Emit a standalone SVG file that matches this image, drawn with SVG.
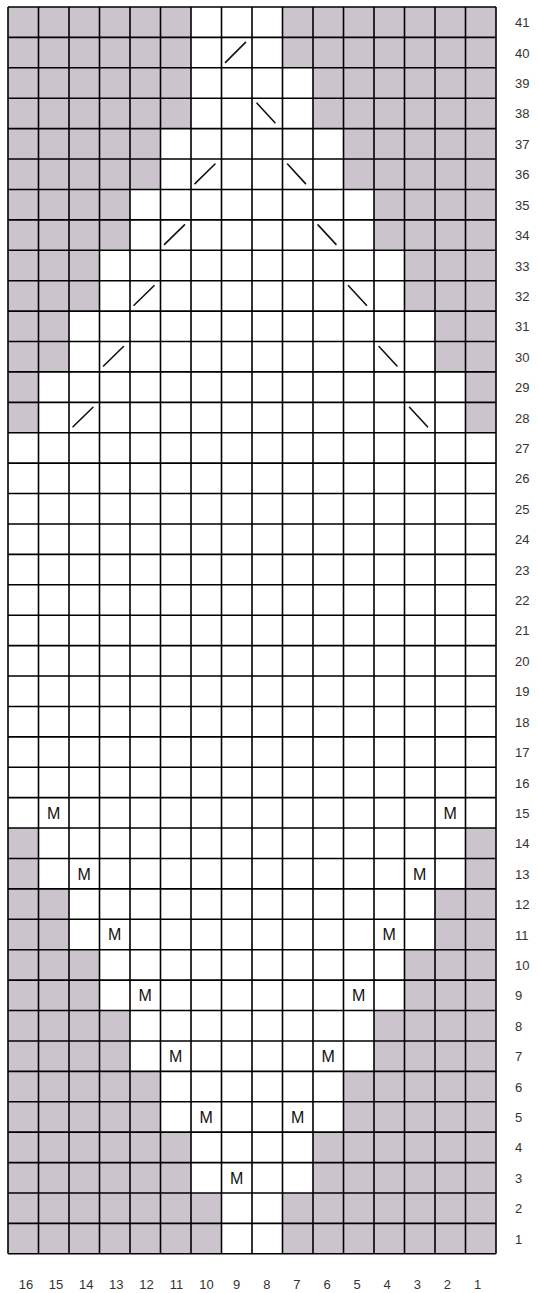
<svg xmlns="http://www.w3.org/2000/svg" width="538" height="1293" viewBox="0 0 538 1293">
<style>
.sh{fill:#cbc4cc}
.gl{stroke:#000;stroke-width:1.6;fill:none}
.dg{stroke:#111;stroke-width:1.6;stroke-linecap:round}
.m{font-family:"Liberation Sans",Arial,sans-serif;font-size:16px;fill:#111;text-anchor:middle}
.lb{font-family:"Liberation Sans",Arial,sans-serif;font-size:13px;fill:#333}
.cl{font-family:"Liberation Sans",Arial,sans-serif;font-size:13px;fill:#333;text-anchor:middle}
</style>
<rect x="0" y="0" width="538" height="1293" fill="#fff"/>
<g id="shading">
<rect class="sh" x="8" y="7" width="183" height="60.82"/><rect class="sh" x="282.5" y="7" width="213.5" height="60.82"/>
<rect class="sh" x="8" y="67.82" width="183" height="60.82"/><rect class="sh" x="313" y="67.82" width="183" height="60.82"/>
<rect class="sh" x="8" y="128.64" width="152.5" height="60.82"/><rect class="sh" x="343.5" y="128.64" width="152.5" height="60.82"/>
<rect class="sh" x="8" y="189.46" width="122" height="60.82"/><rect class="sh" x="374" y="189.46" width="122" height="60.82"/>
<rect class="sh" x="8" y="250.28" width="91.5" height="60.82"/><rect class="sh" x="404.5" y="250.28" width="91.5" height="60.82"/>
<rect class="sh" x="8" y="311.1" width="61" height="60.82"/><rect class="sh" x="435" y="311.1" width="61" height="60.82"/>
<rect class="sh" x="8" y="371.92" width="30.5" height="60.82"/><rect class="sh" x="465.5" y="371.92" width="30.5" height="60.82"/>
<rect class="sh" x="8" y="828.07" width="30.5" height="60.82"/><rect class="sh" x="465.5" y="828.07" width="30.5" height="60.82"/>
<rect class="sh" x="8" y="888.89" width="61" height="60.82"/><rect class="sh" x="435" y="888.89" width="61" height="60.82"/>
<rect class="sh" x="8" y="949.71" width="91.5" height="60.82"/><rect class="sh" x="404.5" y="949.71" width="91.5" height="60.82"/>
<rect class="sh" x="8" y="1010.53" width="122" height="60.82"/><rect class="sh" x="374" y="1010.53" width="122" height="60.82"/>
<rect class="sh" x="8" y="1071.35" width="152.5" height="60.82"/><rect class="sh" x="343.5" y="1071.35" width="152.5" height="60.82"/>
<rect class="sh" x="8" y="1132.17" width="183" height="60.82"/><rect class="sh" x="313" y="1132.17" width="183" height="60.82"/>
<rect class="sh" x="8" y="1192.99" width="213.5" height="60.82"/><rect class="sh" x="282.5" y="1192.99" width="213.5" height="60.82"/>
</g>
<g id="grid">
<path class="gl" d="M8 7V1253.81M38.5 7V1253.81M69 7V1253.81M99.5 7V1253.81M130 7V1253.81M160.5 7V1253.81M191 7V1253.81M221.5 7V1253.81M252 7V1253.81M282.5 7V1253.81M313 7V1253.81M343.5 7V1253.81M374 7V1253.81M404.5 7V1253.81M435 7V1253.81M465.5 7V1253.81M496 7V1253.81"/>
<path class="gl" d="M8 7H496M8 37.41H496M8 67.82H496M8 98.23H496M8 128.64H496M8 159.05H496M8 189.46H496M8 219.87H496M8 250.28H496M8 280.69H496M8 311.1H496M8 341.51H496M8 371.92H496M8 402.33H496M8 432.74H496M8 463.15H496M8 493.56H496M8 523.97H496M8 554.38H496M8 584.79H496M8 615.2H496M8 645.61H496M8 676.02H496M8 706.43H496M8 736.84H496M8 767.25H496M8 797.66H496M8 828.07H496M8 858.48H496M8 888.89H496M8 919.3H496M8 949.71H496M8 980.12H496M8 1010.53H496M8 1040.94H496M8 1071.35H496M8 1101.76H496M8 1132.17H496M8 1162.58H496M8 1192.99H496M8 1223.4H496M8 1253.81H496"/>
</g>
<g id="decreases">
<line class="dg" x1="225.5" y1="62.4" x2="245.5" y2="42.4"/>
<line class="dg" x1="257" y1="103.2" x2="275" y2="122.7"/>
<line class="dg" x1="195" y1="183.6" x2="215" y2="164"/>
<line class="dg" x1="287.5" y1="164" x2="305.5" y2="183.6"/>
<line class="dg" x1="164.5" y1="244.4" x2="184.5" y2="224.9"/>
<line class="dg" x1="318" y1="224.9" x2="336" y2="244.4"/>
<line class="dg" x1="134" y1="305.2" x2="154" y2="285.7"/>
<line class="dg" x1="348.5" y1="285.7" x2="366.5" y2="305.2"/>
<line class="dg" x1="103.5" y1="366" x2="123.5" y2="346.5"/>
<line class="dg" x1="379" y1="346.5" x2="397" y2="366"/>
<line class="dg" x1="73" y1="426.8" x2="93" y2="407.3"/>
<line class="dg" x1="409.5" y1="407.3" x2="427.5" y2="426.8"/>
</g>
<g id="increases">
<text class="m" x="53.75" y="818.8">M</text><text class="m" x="450.25" y="818.8">M</text>
<text class="m" x="84.25" y="879.6">M</text><text class="m" x="419.75" y="879.6">M</text>
<text class="m" x="114.75" y="940.4">M</text><text class="m" x="389.25" y="940.4">M</text>
<text class="m" x="145.25" y="1001.3">M</text><text class="m" x="358.75" y="1001.3">M</text>
<text class="m" x="175.75" y="1062.1">M</text><text class="m" x="328.25" y="1062.1">M</text>
<text class="m" x="206.25" y="1122.9">M</text><text class="m" x="297.75" y="1122.9">M</text>
<text class="m" x="236.75" y="1183.7">M</text>
</g>
<g id="row-labels">
<text class="lb" x="515" y="27.2">41</text><text class="lb" x="515" y="57.6">40</text><text class="lb" x="515" y="88">39</text><text class="lb" x="515" y="118.4">38</text><text class="lb" x="515" y="148.8">37</text><text class="lb" x="515" y="179.3">36</text><text class="lb" x="515" y="209.7">35</text><text class="lb" x="515" y="240.1">34</text><text class="lb" x="515" y="270.5">33</text><text class="lb" x="515" y="300.9">32</text><text class="lb" x="515" y="331.3">31</text><text class="lb" x="515" y="361.7">30</text><text class="lb" x="515" y="392.1">29</text><text class="lb" x="515" y="422.5">28</text><text class="lb" x="515" y="453">27</text><text class="lb" x="515" y="483.4">26</text><text class="lb" x="515" y="513.8">25</text><text class="lb" x="515" y="544.2">24</text><text class="lb" x="515" y="574.6">23</text><text class="lb" x="515" y="605">22</text><text class="lb" x="515" y="635.4">21</text><text class="lb" x="515" y="665.8">20</text><text class="lb" x="515" y="696.2">19</text><text class="lb" x="515" y="726.6">18</text><text class="lb" x="515" y="757">17</text><text class="lb" x="515" y="787.5">16</text><text class="lb" x="515" y="817.9">15</text><text class="lb" x="515" y="848.3">14</text><text class="lb" x="515" y="878.7">13</text><text class="lb" x="515" y="909.1">12</text><text class="lb" x="515" y="939.5">11</text><text class="lb" x="515" y="969.9">10</text><text class="lb" x="515" y="1000.3">9</text><text class="lb" x="515" y="1030.7">8</text><text class="lb" x="515" y="1061.1">7</text><text class="lb" x="515" y="1091.6">6</text><text class="lb" x="515" y="1122">5</text><text class="lb" x="515" y="1152.4">4</text><text class="lb" x="515" y="1182.8">3</text><text class="lb" x="515" y="1213.2">2</text><text class="lb" x="515" y="1243.6">1</text>
</g>
<g id="column-labels">
<text class="cl" x="26" y="1289">16</text><text class="cl" x="56.1" y="1289">15</text><text class="cl" x="86.2" y="1289">14</text><text class="cl" x="116.3" y="1289">13</text><text class="cl" x="146.4" y="1289">12</text><text class="cl" x="176.5" y="1289">11</text><text class="cl" x="206.6" y="1289">10</text><text class="cl" x="236.7" y="1289">9</text><text class="cl" x="266.8" y="1289">8</text><text class="cl" x="296.9" y="1289">7</text><text class="cl" x="327" y="1289">6</text><text class="cl" x="357.1" y="1289">5</text><text class="cl" x="387.2" y="1289">4</text><text class="cl" x="417.3" y="1289">3</text><text class="cl" x="447.4" y="1289">2</text><text class="cl" x="477.5" y="1289">1</text>
</g>
</svg>
